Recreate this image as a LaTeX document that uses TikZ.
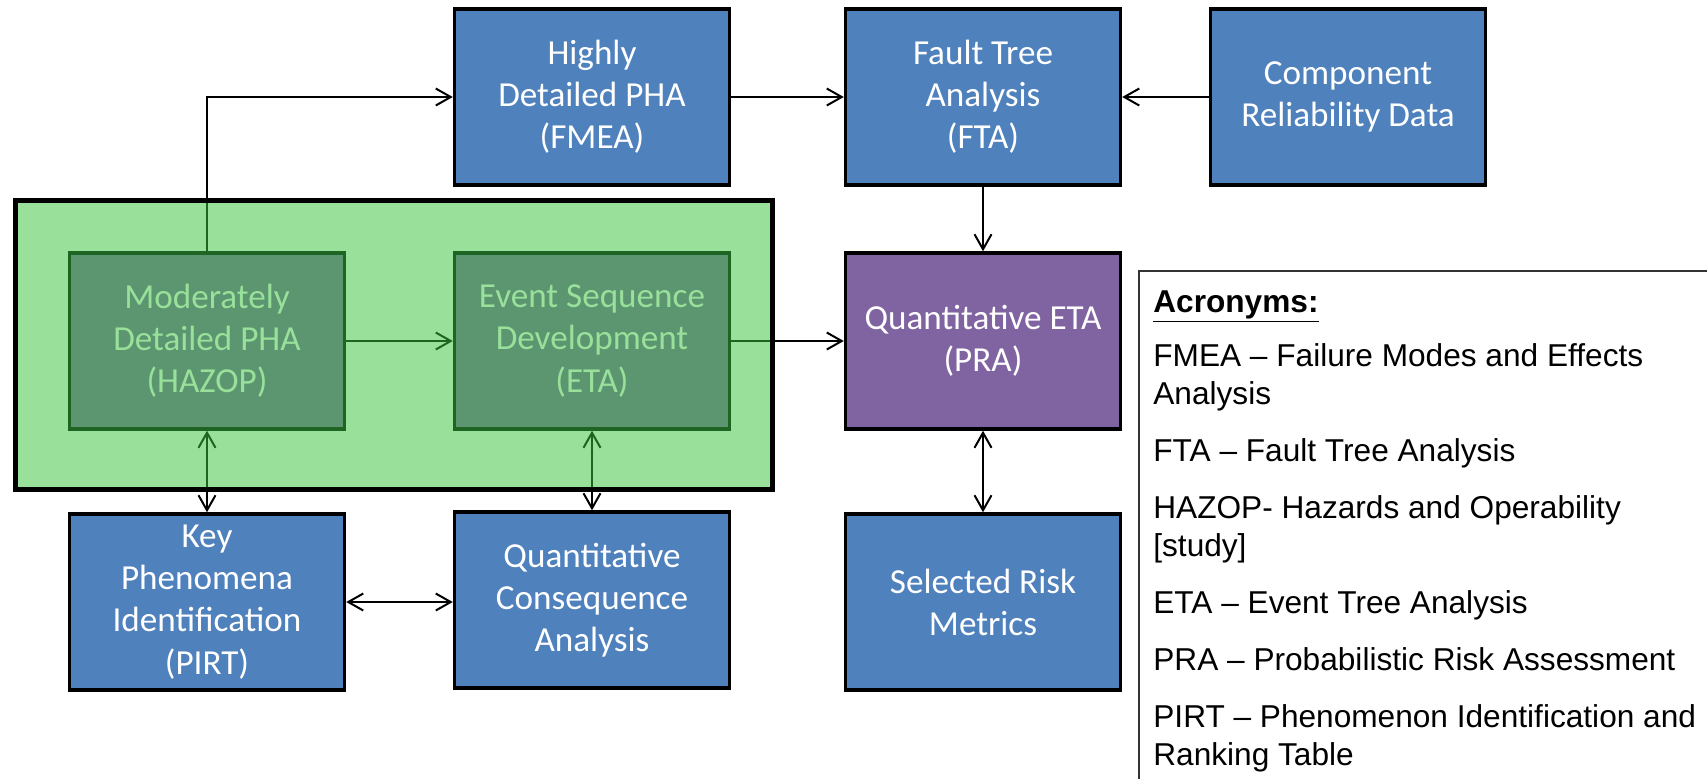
\documentclass[tikz,border=0pt]{standalone}
\usepackage{fontspec}
\setmainfont{Carlito}
\newfontfamily\acrofont{Liberation Sans}
\usepackage{tikz}
\usetikzlibrary{positioning}
\usetikzlibrary{arrows.meta}
\definecolor{boxblue}{RGB}{79,129,189}
\definecolor{etapurple}{RGB}{128,100,162}
\definecolor{tintgreen}{RGB}{60,195,63}
\definecolor{innerfill}{RGB}{92,150,112}
\definecolor{innerline}{RGB}{30,100,35}
\definecolor{innertext}{RGB}{153,224,155}
\pgfdeclarelayer{tint}
\pgfdeclarelayer{front}
\pgfsetlayers{main,tint,front}

\begin{document}
\begin{tikzpicture}[
        x=0.02cm, y=-0.02cm,
        every node/.style={align=center, font=\fontsize{20}{24}\selectfont},
        block/.style={draw=black, line width=0.07cm, fill=boxblue, text=white,
            minimum width=5.5cm, minimum height=3.52cm, inner sep=0pt},
        inner block/.style={block, draw=innerline, fill=innerfill, text=innertext},
        group/.style={draw=black, line width=0.09cm, fill=tintgreen, fill opacity=0.52,
            minimum width=15.15cm, minimum height=5.78cm},
        arr/.style={-{Straight Barb[length=3mm,width=3.4mm]}, line width=0.04cm},
        biarr/.style={{Straight Barb[length=3mm,width=3.4mm]}-{Straight Barb[length=3mm,width=3.4mm]}, line width=0.04cm}]

        \useasboundingbox (0,0) rectangle (1707,779);

        \node[block] (FMEA) at (592,97) {Highly\\Detailed PHA\\(FMEA)};
        \node[block] (FTA) at (983,97) {Fault Tree\\Analysis\\(FTA)};
        \node[block] (CRD) at (1348,97) {Component\\Reliability Data};
        \node[block, fill=etapurple] (PRA) at (983,341) {Quantitative ETA\\(PRA)};
        \node[block] (PIRT) at (207,602) {Key\\Phenomena\\Identification\\(PIRT)};
        \node[block] (QCA) at (592,600) {Quantitative\\Consequence\\Analysis};
        \node[block] (SRM) at (983,602) {Selected Risk\\Metrics};

        \begin{pgfonlayer}{front}
            \node[inner block] (HAZOP) at (207,341) {Moderately\\Detailed PHA\\(HAZOP)};
            \node[inner block] (ESD) at (592,341) {Event Sequence\\Development\\(ETA)};
        \end{pgfonlayer}

        \begin{pgfonlayer}{tint}
            \node[group] (QUAL) at (394,345) {};
        \end{pgfonlayer}

        \draw[arr] (HAZOP.north) |- (FMEA.west);
        \draw[arr] (FMEA) -- (FTA);
        \draw[arr] (CRD) -- (FTA);
        \draw[arr] (FTA) -- (PRA);
        \draw[arr] (HAZOP) -- (ESD);
        \draw[arr] (ESD) -- (PRA);
        \draw[biarr] (HAZOP) -- (PIRT);
        \draw[biarr] (ESD.south) -- (QCA.north);
        \draw[biarr] (PRA) -- (SRM);
        \draw[biarr] (PIRT.east) -- (PIRT.east -| QCA.west);

        \draw[black!80, line width=0.6pt] (1707,271) -| (1139,779);
        \node[anchor=north west, inner sep=0pt, align=left,
            font=\acrofont\fontsize{18}{21.6}\selectfont] (ACRO) at (1153,290)
            {\underline{\textbf{Acronyms:}}\\[9.5pt]
             FMEA – Failure Modes and Effects\\
             Analysis\\[10.8pt]
             FTA – Fault Tree Analysis\\[10.8pt]
             HAZOP- Hazards and Operability\\
             {[study]}\\[10.8pt]
             ETA – Event Tree Analysis\\[10.8pt]
             PRA – Probabilistic Risk Assessment\\[10.8pt]
             PIRT – Phenomenon Identification and\\
             Ranking Table};

    \end{tikzpicture}
\end{document}
